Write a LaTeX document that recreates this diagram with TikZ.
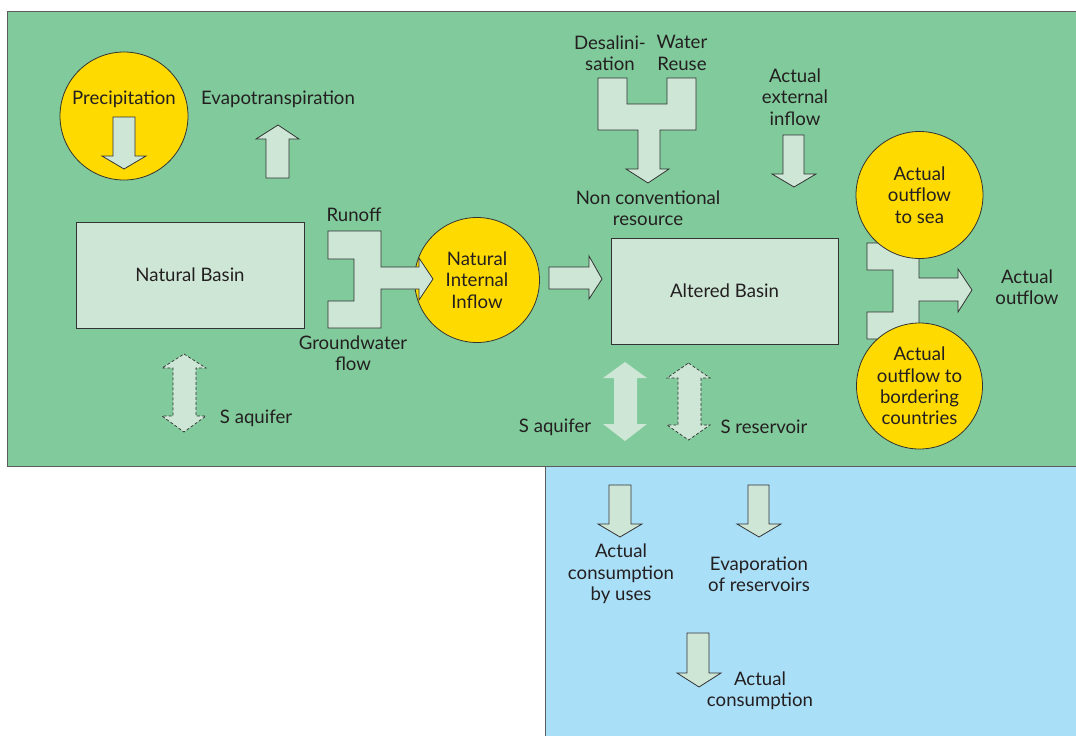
\documentclass[tikz,border=0pt]{standalone}
\usepackage{fontspec}
\setmainfont{Lato}
\definecolor{bggreen}{RGB}{128,202,155}
\definecolor{pale}{RGB}{205,230,214}
\definecolor{sunny}{RGB}{255,218,0}
\definecolor{sky}{RGB}{170,223,248}
\definecolor{edge}{RGB}{51,51,51}
\definecolor{txt}{RGB}{35,31,32}
% down block arrow: shaft x1 x2, top y0, head base yb, head xl xr, tip y
\newcommand{\DnArr}[8]{\path[#1] (#2,#4) -- (#3,#4) -- (#3,#5) -- (#7,#5) -- ({(#6+#7)/2},#8) -- (#6,#5) -- (#2,#5) -- cycle;}
% double vertical arrow: style, shaft x1 x2, head xl xr, top tip, top base, bottom base, bottom tip
\newcommand{\DblArr}[9]{\path[#1] ({(#4+#5)/2},#6) -- (#5,#7) -- (#3,#7) -- (#3,#8) -- (#5,#8) -- ({(#4+#5)/2},#9) -- (#4,#8) -- (#2,#8) -- (#2,#7) -- (#4,#7) -- cycle;}
\begin{document}
\begin{tikzpicture}[x=1pt,y=-1pt,
  lbl/.style={text=txt, font=\fontsize{18.6}{21.3}\selectfont, align=center, inner sep=0pt},
  box/.style={draw=edge, fill=pale, line width=0.8pt},
  blk/.style={draw=edge, fill=pale, line width=0.8pt, line join=miter},
  dblk/.style={draw=edge, fill=pale, dashed, dash pattern=on 3pt off 2pt, line width=0.7pt},
  sblk/.style={fill=pale},
  sun/.style={circle, draw=edge, fill=sunny, line width=0.8pt, inner sep=0pt, text=txt, font=\fontsize{18.6}{21.3}\selectfont, align=center}]
\useasboundingbox (0,0) rectangle (1076,736);
% backgrounds
\path[fill=bggreen, draw=edge!80, line width=1pt] (7,11) rectangle (1080,466);
\path[fill=sky, draw=edge!80, line width=1pt] (545,466) rectangle (1080,740);

% Precipitation
\node[sun, minimum size=128pt] (prec) at (124,116) {};
\node[lbl] (precl) at (124,99) {Precipitation};
\DnArr{blk}{113}{135}{117}{156}{102}{146}{169}
% Evapotranspiration
\node[lbl] (evap) at (278,99) {Evapotranspiration};
\path[blk] (266,178) -- (289,178) -- (289,139) -- (299,139) -- (278,125) -- (256,139) -- (266,139) -- cycle;

% Natural basin
\node[box, minimum width=228pt, minimum height=106pt, lbl, inner sep=0pt] (nat) at (190,275) {Natural Basin};
\node[lbl] (runoff) at (354,215) {Runoff};
\node[lbl] (gw) at (353,353) {Groundwater\\flow};

% Natural internal inflow
\node[sun, minimum size=125pt] (nii) at (477,280) {Natural\\Internal\\Inflow};
\path[blk] (328,231) -- (381,231) -- (381,267) -- (419,267) -- (419,258) -- (433,279) -- (419,300) -- (419,289) -- (381,289) -- (381,328) -- (328,328) -- (328,301) -- (354,301) -- (354,259) -- (328,259) -- cycle;

% arrow to altered basin
\path[blk] (549,267) -- (589,267) -- (589,256) -- (602,279) -- (589,299) -- (589,289) -- (549,289) -- cycle;
\node[box, minimum width=227pt, minimum height=106pt, lbl, inner sep=0pt] (alt) at (724.5,291) {Altered Basin};

% non conventional resource
\node[lbl] (desal) at (610,53) {Desalini-\\sation};
\node[lbl] (reuse) at (682,53) {Water\\Reuse};
\path[blk] (598,78) -- (627,78) -- (627,104) -- (667,104) -- (667,78) -- (696,78) -- (696,130) -- (660,130) -- (660,169) -- (669,169) -- (648,183) -- (626,169) -- (638,169) -- (638,130) -- (598,130) -- cycle;
\node[lbl] (noncon) at (648,208) {Non conventional\\resource};

% actual external inflow
\node[lbl] (ext) at (795,97) {Actual\\external\\inflow};
\DnArr{blk}{783}{804}{135}{174}{772}{816}{187}

% outflow
\path[blk] (867,243) -- (919,243) -- (919,278) -- (958,278) -- (958,269) -- (972,290) -- (958,312) -- (958,301) -- (919,301) -- (919,339) -- (867,339) -- (867,312) -- (893,312) -- (893,270) -- (867,270) -- cycle;
\node[sun, minimum size=127pt] (sea) at (919.5,195) {Actual\\outflow\\to sea};
\node[sun, minimum size=126pt] (border) at (919.5,386) {Actual\\outflow to\\bordering\\countries};
\node[lbl] (outfl) at (1027,287.5) {Actual\\outflow};

% storage arrows
\DblArr{dblk}{173}{196}{162}{206}{354}{368}{416}{432}
\node[lbl] (saq1) at (256,418) {S aquifer};
\DblArr{sblk}{614}{637}{603}{647}{362}{378}{424}{441}
\node[lbl] (saq2) at (555,427) {S aquifer};
\DblArr{dblk}{678}{701}{667}{710}{363}{378}{425}{440}
\node[lbl] (sres) at (764,427) {S reservoir};

% consumption
\DnArr{blk}{609}{631}{485}{524}{598}{642}{537}
\node[lbl] (cuses) at (621,574) {Actual\\consumption\\by uses};
\DnArr{blk}{748}{769}{485}{524}{737}{781}{537}
\node[lbl] (evres) at (759,574) {Evaporation\\of reservoirs};
\DnArr{blk}{687}{709}{633}{673}{677}{721}{687}
\node[lbl] (acons) at (760,691) {Actual\\consumption};
\end{tikzpicture}
\end{document}
